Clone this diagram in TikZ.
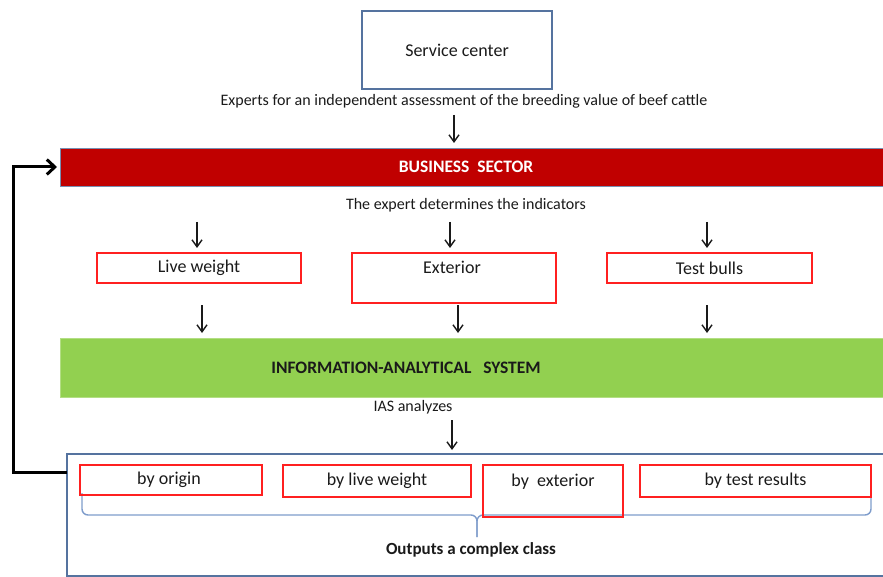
\documentclass[tikz,border=0pt]{standalone}
\usepackage{fontspec}
\setmainfont{Carlito}
\usetikzlibrary{arrows.meta,calc}

\definecolor{frameblue}{HTML}{55739F}
\definecolor{bizred}{HTML}{C00000}
\definecolor{iasgreen}{HTML}{92D050}
\definecolor{boxred}{HTML}{FF2020}
\definecolor{bracecol}{HTML}{7E9CCB}
\definecolor{inkgray}{HTML}{1A1A1A}

\tikzset{
  every node/.style={inner sep=0pt, outer sep=0pt, text=inkgray},
  bluebox/.style={draw=frameblue, line width=1.3pt, anchor=north west},
  redbox/.style={draw=boxred, line width=1.5pt, anchor=north west},
  bar/.style={anchor=north west, line width=0.6pt},
  label/.style={font=\fontsize{18}{20}\selectfont},
  note/.style={font=\fontsize{16}{18}\selectfont},
  headline/.style={font=\fontsize{17.5}{20}\selectfont\bfseries},
  arr/.style={draw=inkgray, line width=1.4pt,
    -{Straight Barb[length=7pt,width=10pt,line width=1.4pt]}},
  feedback/.style={draw=black, line width=3pt,
    -{Straight Barb[length=8pt,width=15pt,line width=3pt]}},
  bracepath/.style={draw=bracecol, line width=1.4pt, rounded corners=6pt}
}

\begin{document}
\begin{tikzpicture}[x=1pt,y=-1pt]
\useasboundingbox (0,0) rectangle (883,577);

% top service centre
\node[bluebox, minimum width=190pt, minimum height=78pt, label] (service) at (362,11) {Service center};
\node[note] (experts) at (464,101) {Experts for an independent assessment of the breeding value of beef cattle};

% business sector bar
\node[bar, fill=bizred, draw=frameblue!80, minimum width=830pt, minimum height=38pt] (biz) at (60,148) {};
\node[headline, text=white] (bizlabel) at (466,167) {BUSINESS~ SECTOR};
\node[note] (expertline) at (466,205) {The expert determines the indicators};

% indicator boxes
\node[redbox, minimum width=204pt, minimum height=30pt, label] (lw) at (97,253) {Live weight};
\node[redbox, minimum width=204pt, minimum height=50pt] (ext) at (352,253) {};
\node[label] (extlabel) at (452,267) {Exterior};
\node[redbox, minimum width=205pt, minimum height=30pt, label] (tb) at (607,253) {Test bulls};

% information-analytical system bar
\node[bar, fill=iasgreen, draw=iasgreen!70!white, minimum width=830pt, minimum height=59pt] (ias) at (60,338) {};
\node[headline] (iaslabel) at (406,368) {INFORMATION-ANALYTICAL~~ SYSTEM};
\node[note] (iasnote) at (413,407) {IAS analyzes};

% output block
\node[bluebox, minimum width=830pt, minimum height=122pt] (out) at (67,454) {};

% brace grouping the four classes
\coordinate (brL) at (82,493);
\coordinate (brR) at (871,497);
\coordinate (brTip) at (477,537);
\draw[bracepath] (brL) |- (brTip |- 0,515) -- (brTip);
\draw[bracepath] (brR) |- (brTip |- 0,515) -- (brTip);

\node[redbox, minimum width=182pt, minimum height=30pt] (origin) at (80,465) {};
\node[label] (originlabel) at (169,480) {by origin};
\node[redbox, minimum width=188pt, minimum height=32pt, label] (blw) at (283,465) {by live weight};
\node[redbox, minimum width=140pt, minimum height=52pt] (bext) at (483,465) {};
\node[label] (bextlabel) at (553,482) {by~ exterior};
\node[redbox, minimum width=231pt, minimum height=32pt, label] (btr) at (640,465) {by test results};
\node[font=\fontsize{17}{20}\selectfont\bfseries] (outlabel) at (471,550) {Outputs a complex class};

% arrow starts
\coordinate (a0) at (454,115);
\coordinate (a1) at (197,222);
\coordinate (a2) at (450,222);
\coordinate (a3) at (707,222);
\coordinate (b1) at (202,305);
\coordinate (b2) at (458,305);
\coordinate (b3) at (707,305);
\coordinate (c0) at (452,420);

\draw[arr, shorten >=5pt] (a0) -- (a0 |- biz.north);
\draw[arr, shorten >=5pt] (a1) -- (a1 |- lw.north);
\draw[arr, shorten >=5pt] (a2) -- (a2 |- ext.north);
\draw[arr, shorten >=5pt] (a3) -- (a3 |- tb.north);
\draw[arr, shorten >=5pt] (b1) -- (b1 |- ias.north);
\draw[arr, shorten >=5pt] (b2) -- (b2 |- ias.north);
\draw[arr, shorten >=5pt] (b3) -- (b3 |- ias.north);
\draw[arr, shorten >=4pt] (c0) -- (c0 |- out.north);

% feedback loop from the output block back to the business sector
\coordinate (fbStart) at ($(out.north west)+(0,18)$);
\coordinate (fbCorner) at (13,0);
\draw[feedback, shorten >=3pt] (fbStart) -| (fbCorner |- biz.west) -- (biz.west);
\end{tikzpicture}
\end{document}
